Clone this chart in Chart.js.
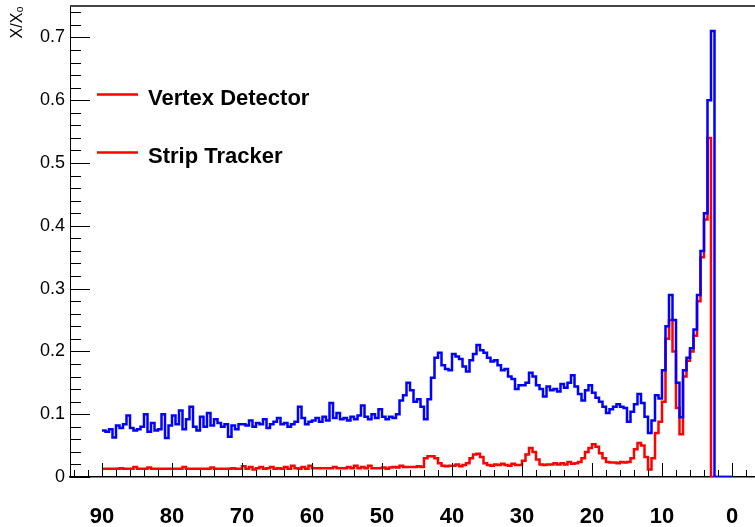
<!DOCTYPE html>
<html>
<head>
  <meta charset="utf-8">
  <title>X/X0</title>
  <script src="https://cdn.jsdelivr.net/npm/chart.js"></script>
  <style>
    html, body { margin: 0; padding: 0; background: white; }
    #wrap { width: 755px; height: 527px; position: relative; }
  </style>
</head>
<body>
<div id="wrap"><canvas id="chart"></canvas></div>
<script>
// histogram bins, 0.5 wide, listed from 90 down to 0 (value = bin [edge-0.5, edge])
const binStart = 90;
const binWidth = 0.5;

const seriesNames = ['Vertex Detector', 'Strip Tracker'];

const vertexDetector = [
  0.013, 0.013, 0.013, 0.013, 0.013, 0.014, 0.013, 0.013, 0.013, 0.016, 0.013, 0.013, 0.013, 0.015, 0.013, 0.013, 0.013, 0.013, 0.013, 0.013,
  0.013, 0.013, 0.013, 0.016, 0.013, 0.013, 0.013, 0.013, 0.013, 0.013, 0.013, 0.015, 0.013, 0.013, 0.013, 0.013, 0.013, 0.014, 0.013, 0.013,
  0.017, 0.013, 0.016, 0.012, 0.014, 0.016, 0.013, 0.014, 0.016, 0.013, 0.014, 0.013, 0.016, 0.013, 0.018, 0.014, 0.013, 0.016, 0.013, 0.018,
  0.014, 0.014, 0.014, 0.014, 0.014, 0.014, 0.016, 0.014, 0.014, 0.014, 0.016, 0.014, 0.018, 0.014, 0.016, 0.014, 0.018, 0.014, 0.014, 0.014,
  0.015, 0.013, 0.015, 0.016, 0.015, 0.018, 0.016, 0.016, 0.016, 0.016, 0.017, 0.016, 0.030, 0.033, 0.033, 0.030, 0.022, 0.018, 0.017, 0.018,
  0.018, 0.020, 0.017, 0.019, 0.022, 0.030, 0.036, 0.037, 0.032, 0.022, 0.019, 0.018, 0.020, 0.019, 0.021, 0.019, 0.018, 0.021, 0.019, 0.019,
  0.026, 0.036, 0.046, 0.040, 0.028, 0.020, 0.019, 0.020, 0.020, 0.022, 0.020, 0.022, 0.020, 0.024, 0.021, 0.022, 0.024, 0.030, 0.040, 0.046,
  0.052, 0.048, 0.038, 0.030, 0.024, 0.023, 0.023, 0.022, 0.024, 0.023, 0.024, 0.030, 0.044, 0.054, 0.050, 0.032, 0.012, 0.030, 0.070, 0.088,
  0.120, 0.220, 0.250, 0.200, 0.110, 0.068, 0.160, 0.185, 0.200, 0.225, 0.280, 0.350, 0.410, 0.540, 0, 0, 0, 0, 0, 0
];

const stripTracker = [
  0.074, 0.072, 0.076, 0.063, 0.082, 0.078, 0.084, 0.098, 0.078, 0.074, 0.076, 0.080, 0.100, 0.072, 0.086, 0.074, 0.076, 0.100, 0.062, 0.082,
  0.098, 0.084, 0.106, 0.076, 0.092, 0.112, 0.080, 0.074, 0.096, 0.080, 0.102, 0.082, 0.092, 0.086, 0.080, 0.084, 0.064, 0.082, 0.076, 0.084,
  0.084, 0.082, 0.090, 0.080, 0.086, 0.084, 0.092, 0.078, 0.084, 0.088, 0.094, 0.084, 0.086, 0.080, 0.084, 0.088, 0.112, 0.094, 0.084, 0.088,
  0.090, 0.094, 0.088, 0.096, 0.090, 0.118, 0.094, 0.102, 0.092, 0.094, 0.090, 0.096, 0.092, 0.098, 0.114, 0.096, 0.092, 0.100, 0.094, 0.108,
  0.096, 0.092, 0.096, 0.094, 0.100, 0.122, 0.130, 0.150, 0.138, 0.120, 0.124, 0.112, 0.092, 0.124, 0.158, 0.190, 0.198, 0.178, 0.172, 0.170,
  0.196, 0.192, 0.188, 0.176, 0.168, 0.186, 0.196, 0.210, 0.202, 0.198, 0.190, 0.184, 0.186, 0.178, 0.170, 0.172, 0.160, 0.156, 0.140, 0.146,
  0.146, 0.150, 0.166, 0.160, 0.146, 0.140, 0.128, 0.144, 0.138, 0.140, 0.136, 0.148, 0.142, 0.150, 0.162, 0.144, 0.132, 0.122, 0.138, 0.146,
  0.134, 0.126, 0.120, 0.112, 0.102, 0.108, 0.112, 0.116, 0.112, 0.110, 0.088, 0.104, 0.116, 0.132, 0.118, 0.096, 0.070, 0.090, 0.130, 0.125,
  0.170, 0.240, 0.290, 0.250, 0.150, 0.095, 0.170, 0.190, 0.205, 0.235, 0.290, 0.360, 0.420, 0.600, 0.710, 0, 0, 0, 0, 0
];

const xTickLabels = [90, 80, 70, 60, 50, 40, 30, 20, 10, 0];
const yTickLabels = [0, 0.1, 0.2, 0.3, 0.4, 0.5, 0.6, 0.7];
const xMinorStep = 2;
const yMinorStep = 0.02;

const binEdges = stripTracker.map((_, i) => binStart - i * binWidth);
const toPoints = vals => vals.map((v, i) => ({x: binEdges[i], y: v})).concat([{x: 0, y: 0}]);

// ROOT style: ticks inside the frame, top frame line, legend inside the pad
const rootStyle = {
  id: 'rootStyle',
  afterDraw(chart) {
    const {ctx, chartArea: a, scales: {x, y}} = chart;
    ctx.save();
    ctx.strokeStyle = '#000';
    ctx.lineWidth = 1;
    ctx.beginPath();
    for (let i = 0; i * yMinorStep <= y.max + 1e-9; i++) {
      const py = Math.round(y.getPixelForValue(i * yMinorStep)) + 0.5;
      const len = i % 5 === 0 ? 20 : 11;
      ctx.moveTo(a.left, py);
      ctx.lineTo(a.left + len, py);
    }
    for (let v = Math.ceil(x.min / xMinorStep) * xMinorStep; v <= x.max; v += xMinorStep) {
      const px = Math.round(x.getPixelForValue(v)) + 0.5;
      const len = v % 10 === 0 ? 14 : 7;
      ctx.moveTo(px, a.bottom);
      ctx.lineTo(px, a.bottom - len);
    }
    ctx.stroke();

    ctx.strokeStyle = '#444';
    ctx.lineWidth = 2;
    ctx.beginPath();
    ctx.moveTo(a.left, a.top);
    ctx.lineTo(a.right, a.top);
    ctx.stroke();

    // legend (both samples are red in the original)
    ctx.font = 'bold 22px "Liberation Sans", Arial, sans-serif';
    ctx.textBaseline = 'alphabetic';
    ctx.fillStyle = '#000';
    seriesNames.forEach((name, i) => {
      const ly = a.top + 88.5 + i * 58;
      ctx.strokeStyle = '#ff0000';
      ctx.lineWidth = 2.5;
      ctx.beginPath();
      ctx.moveTo(a.left + 27, ly);
      ctx.lineTo(a.left + 68, ly);
      ctx.stroke();
      ctx.fillText(name, a.left + 78, ly + 10);
    });
    ctx.restore();
  }
};

new Chart(document.getElementById('chart'), {
  type: 'line',
  data: {
    datasets: [
      {
        label: seriesNames[0],
        data: toPoints(vertexDetector),
        borderColor: '#ff0000',
        backgroundColor: '#ff0000',
        borderWidth: 2.5,
        pointRadius: 0,
        stepped: true,
        fill: false,
        order: 1
      },
      {
        label: seriesNames[1],
        data: toPoints(stripTracker),
        borderColor: '#0000ff',
        backgroundColor: '#0000ff',
        borderWidth: 2.5,
        pointRadius: 0,
        stepped: true,
        fill: false,
        order: 0
      }
    ]
  },
  options: {
    responsive: true,
    maintainAspectRatio: false,
    animation: false,
    layout: { padding: { top: 6, right: 0, bottom: 0, left: 0 } },
    plugins: {
      legend: { display: false },
      tooltip: { enabled: false }
    },
    scales: {
      x: {
        type: 'linear',
        reverse: true,
        min: -23 / 7,
        max: 662 / 7,
        grid: { display: false, drawTicks: false },
        border: { display: true, color: '#000', width: 1.5 },
        afterBuildTicks: s => { s.ticks = xTickLabels.map(v => ({value: v})); },
        afterFit: s => { s.height = 50; s.paddingLeft = 0; s.paddingRight = 0; },
        ticks: {
          autoSkip: false,
          maxRotation: 0,
          padding: 27,
          color: '#000',
          font: { family: '"Liberation Sans", Arial, sans-serif', size: 22, weight: 'bold' },
          callback: v => String(v)
        }
      },
      y: {
        min: 0,
        max: 0.75,
        grid: { display: false, drawTicks: false },
        border: { display: true, color: '#000', width: 1 },
        afterBuildTicks: s => { s.ticks = yTickLabels.map(v => ({value: v})); },
        afterFit: s => { s.width = 70; s.paddingTop = 0; s.paddingBottom = 0; },
        title: {
          display: true,
          text: 'X/X\u2080',
          align: 'end',
          color: '#000',
          padding: { top: 8, bottom: 0 },
          font: { family: '"Liberation Sans", Arial, sans-serif', size: 16 }
        },
        ticks: {
          padding: 5,
          color: '#000',
          font: { family: '"Liberation Sans", Arial, sans-serif', size: 18 },
          callback: v => String(Math.round(v * 10) / 10)
        }
      }
    }
  },
  plugins: [rootStyle]
});
</script>
</body>
</html>
